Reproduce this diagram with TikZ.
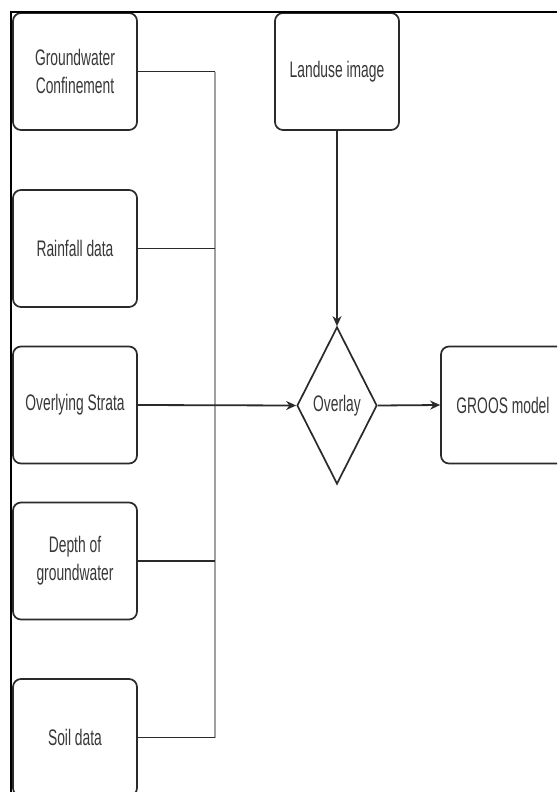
\documentclass[tikz,border=0pt]{standalone}
\usepackage{fontspec}
\setmainfont{Liberation Sans}[FakeStretch=0.615]
\usetikzlibrary{shapes.geometric,arrows.meta}
\definecolor{txt}{HTML}{383838}
\definecolor{edge}{HTML}{2A2A2A}
\definecolor{bus}{HTML}{A0A0A0}
\tikzset{
  box/.style={draw=edge, line width=1.7pt, rounded corners=8pt, minimum width=124pt, minimum height=117pt,
    inner sep=0pt, align=center, text=txt, font=\fontsize{22.5}{28}\selectfont},
  dia/.style={draw=edge, line width=1.7pt, diamond, aspect=0.5, minimum width=80pt, minimum height=157pt,
    inner sep=0pt, text=txt, font=\fontsize{22.5}{28}\selectfont},
  link/.style={draw=edge, line width=1.8pt},
  arr/.style={draw=edge, line width=1.8pt, -{Stealth[length=10pt,width=9pt]}},
  busline/.style={draw=bus, line width=2.4pt}
}
\begin{document}
\begin{tikzpicture}[x=1pt,y=-1pt]
\useasboundingbox (0,0) rectangle (557,792);
\fill[white] (0,0) rectangle (557,792);
\begin{scope}
\clip (0,0) rectangle (557,792);
\node[box] (gc) at (75,71.5) {Groundwater\\Confinement};
\node[box] (rf) at (75,248.5) {Rainfall data};
\node[box] (os) at (75,405) {Overlying Strata};
\node[box] (dg) at (75,561) {Depth of\\groundwater};
\node[box] (sd) at (75,737.5) {Soil data};
\node[box] (lu) at (337,71.5) {Landuse image};
\node[dia] (ov) at (337,405.5) {Overlay};
\node[box] (gm) at (503,405) {GROOS model};
\coordinate (bt) at (215,71.5);
\coordinate (bb) at (215,737.5);
\draw[busline] (bt) -- (bb);
\draw[link] (gc.east) -- (bt);
\draw[link] (rf.east) -- (rf.east -| bt);
\draw[link] (dg.east) -- (dg.east -| bt);
\draw[link] (sd.east) -- (bb);
\draw[arr] (os.east) -- (ov.west);
\draw[arr] (lu.south) -- (ov.north);
\draw[arr] (ov.east) -- (gm.west);
\draw[black, line width=2.2pt] (557,12) -- (11,12) -- (11,792);
\end{scope}
\end{tikzpicture}
\end{document}
